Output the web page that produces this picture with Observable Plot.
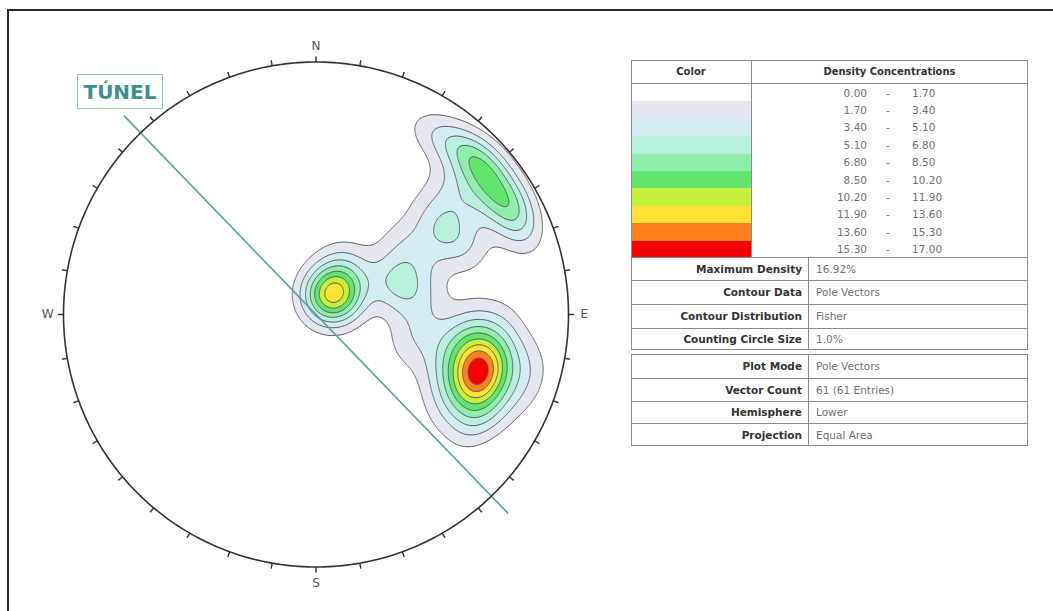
<!DOCTYPE html>
<html><head><meta charset="utf-8">
<script src="https://cdn.jsdelivr.net/npm/d3@7"></script>
<script src="https://cdn.jsdelivr.net/npm/@observablehq/plot@0.6"></script>
<style>
html,body{margin:0;padding:0;background:#fff;}
#wrap{position:relative;width:1053px;height:611px;overflow:hidden;font-family:"DejaVu Sans",Verdana,sans-serif;}
</style></head>
<body><div id="wrap"></div>
<script>
// ---- data: pole vectors (trend / plunge, degrees), lower hemisphere ----
const trendSE  = [109,110,108,110,108,111,110,118,114,104,100,104,114,124,115,103,94,94,103,115,124,100,107,123];
const plungeSE = [32,33,31,31,33,32,32,32,39,39,32,25,25,37,45,45,37,27,19,19,27,40,12,24];
const trendW   = [40,28,52,44,38,47,35,42,27,41];
const plungeW  = [82,81,82,83,80,80,82,84,71,73];
const trendNE  = [56,61,47,58,50,58,50,45,64,45,66];
const plungeNE = [19,12,12,17,17,10,10,12,15,15,12];
const trendMid = [49,58,60,51,66,52,69,72,67,80,96,33,38,48,60,108];
const plungeMid= [40,40,39,54,34,31,62,61,62,54,56,16,14,27,51,58];

// legend / contour levels
const bandLower = [0.00,1.70,3.40,5.10,6.80,8.50,10.20,11.90,13.60,15.30];
const bandUpper = [1.70,3.40,5.10,6.80,8.50,10.20,11.90,13.60,15.30,17.00];
const bandColors = ["#ffffff","#e5e7ef","#d3ecf1","#b9efdf","#8eeeab","#5fe56c","#c6f03e","#ffe234","#ff801f","#f40000"];

const infoLabels1 = ["Maximum Density","Contour Data","Contour Distribution","Counting Circle Size"];
const infoValues1 = ["16.92%","Pole Vectors","Fisher","1.0%"];
const infoLabels2 = ["Plot Mode","Vector Count","Hemisphere","Projection"];
const infoValues2 = ["Pole Vectors","61 (61 Entries)","Lower","Equal Area"];

const cardinalLabels = ["N","E","S","W"];
const cardinalAz = [0,90,180,270];
const tickAz = d3.range(0,360,10);
const tunnelAz = 136;
const tunnelLabel = "TÚNEL";
const fisherK = 80;        // Fisher concentration
const densityScale = 95;   // % per 1% area scaling

// ---- build pole vectors ----
const rad = Math.PI/180;
const trends = [...trendSE,...trendW,...trendNE,...trendMid];
const plunges = [...plungeSE,...plungeW,...plungeNE,...plungeMid];
const N = trends.length;
const vecs = trends.map((t,i)=>{const tr=t*rad, pl=plunges[i]*rad; return [Math.sin(tr)*Math.cos(pl), Math.cos(tr)*Math.cos(pl), Math.sin(pl)];});

// Fisher density at equal-area plot coords (x east, y north)
function density(x,y){
  const r = Math.hypot(x,y);
  if (r > 1) return 0;
  const phi = 2*Math.asin(r/Math.SQRT2);
  const s = Math.sin(phi), c = Math.cos(phi);
  const ex = r>0 ? s*x/r : 0, ny = r>0 ? s*y/r : 0;
  let sum = 0;
  for (const v of vecs){
    const d = Math.abs(ex*v[0]+ny*v[1]+c*v[2]);
    sum += Math.exp(fisherK*(d-1));
  }
  return densityScale*sum/N;
}

const wrap = document.getElementById("wrap");
function box(l,t,w,h,css){const d=document.createElement("div");d.style.cssText=`position:absolute;left:${l}px;top:${t}px;width:${w}px;height:${h}px;box-sizing:border-box;${css||""}`;wrap.appendChild(d);return d;}
function txt(l,t,w,h,s,align,css){const d=box(l,t,w,h,`display:flex;align-items:center;justify-content:${align};white-space:nowrap;${css||""}`);d.textContent=s;return d;}

// frame
box(7,9,1100,700,"border-top:2px solid #2a2a2a;border-left:2px solid #2a2a2a;");

// ---- stereonet ----
const rim = d3.range(0,361,1);
const chart = Plot.plot({
  width:1053, height:611,
  marginLeft:63, marginRight:485, marginTop:61.5, marginBottom:44.5,
  x:{domain:[-1,1], axis:null}, y:{domain:[-1,1], axis:null},
  color:{type:"threshold", domain:bandLower.slice(1), range:bandColors},
  style:{background:"transparent", fontFamily:"DejaVu Sans, sans-serif", overflow:"visible"},
  marks:[
    Plot.contour({fill:(x,y)=>density(x,y), x1:-1, y1:-1, x2:1, y2:1, pixelSize:1,
      thresholds:bandLower.slice(1), stroke:"#5e5e5e", strokeWidth:1}),
    Plot.link([tunnelAz],{x1:a=>-1.095*Math.sin(a*rad), y1:a=>-1.095*Math.cos(a*rad),
      x2:a=>1.095*Math.sin(a*rad), y2:a=>1.095*Math.cos(a*rad), stroke:"#5a9f9f", strokeWidth:1.6}),
    Plot.line(rim,{x:a=>Math.sin(a*rad), y:a=>Math.cos(a*rad), stroke:"#333", strokeWidth:1.6}),
    Plot.link(tickAz,{x1:a=>Math.sin(a*rad), y1:a=>Math.cos(a*rad),
      x2:a=>1.022*Math.sin(a*rad), y2:a=>1.022*Math.cos(a*rad), stroke:"#333", strokeWidth:1.4}),
    Plot.text(cardinalLabels,{x:(d,i)=>1.063*Math.sin(cardinalAz[i]*rad), y:(d,i)=>1.063*Math.cos(cardinalAz[i]*rad),
      text:d=>d, fontSize:12, fill:"#555"})
  ]
});
chart.style.position="absolute"; chart.style.left="0px"; chart.style.top="0px";
wrap.appendChild(chart);

// tunnel label
txt(77,74,86,35,tunnelLabel,"center","border:1px solid #93c5c5;color:#3f8d8d;font-weight:bold;font-size:20px;");

// ---- legend table ----
const L=631, R=1028, W=R-L, D1=751, D2=808;
const lineC="#8a8a8a";
box(L,60,W,290,`border:1px solid ${lineC};`);
box(L,83,W,1,`background:${lineC};`);
box(D1,60,1,197,`background:${lineC};`);
txt(L,60,D1-L,23,"Color","center","font-weight:bold;font-size:10px;color:#333;");
txt(D1,60,R-D1,23,"Density Concentrations","center","font-weight:bold;font-size:10px;color:#333;");
const rowH=17.4;
bandColors.forEach((c,i)=>{
  box(L+1,83+1+i*rowH,D1-L-1,rowH,`background:${c};`);
  const y=83+1+i*rowH;
  txt(820,y,47,rowH,bandLower[i].toFixed(2),"flex-end","font-size:10.5px;color:#707070;");
  txt(882,y,12,rowH,"-","center","font-size:10.5px;color:#707070;");
  txt(912,y,60,rowH,bandUpper[i].toFixed(2),"flex-start","font-size:10.5px;color:#707070;");
});
box(L,257,W,1,`background:${lineC};`);
const rows1=[257,280,304,328,350];
for(let i=0;i<4;i++){
  const t=rows1[i], h=rows1[i+1]-t;
  if(i>0) box(L,t,W,1,`background:${lineC};`);
  txt(L,t,D2-L-6,h,infoLabels1[i],"flex-end","font-weight:bold;font-size:10.5px;color:#333;");
  txt(D2+8,t,R-D2-8,h,infoValues1[i],"flex-start","font-size:10.5px;color:#707070;");
}
box(D2,257,1,93,`background:${lineC};`);
const rows2=[354,378,401,423,446];
box(L,354,W,92,`border:1px solid ${lineC};`);
for(let i=0;i<4;i++){
  const t=rows2[i], h=rows2[i+1]-t;
  if(i>0) box(L,t,W,1,`background:${lineC};`);
  txt(L,t,D2-L-6,h,infoLabels2[i],"flex-end","font-weight:bold;font-size:10.5px;color:#333;");
  txt(D2+8,t,R-D2-8,h,infoValues2[i],"flex-start","font-size:10.5px;color:#707070;");
}
box(D2,354,1,92,`background:${lineC};`);
</script>
</body></html>
